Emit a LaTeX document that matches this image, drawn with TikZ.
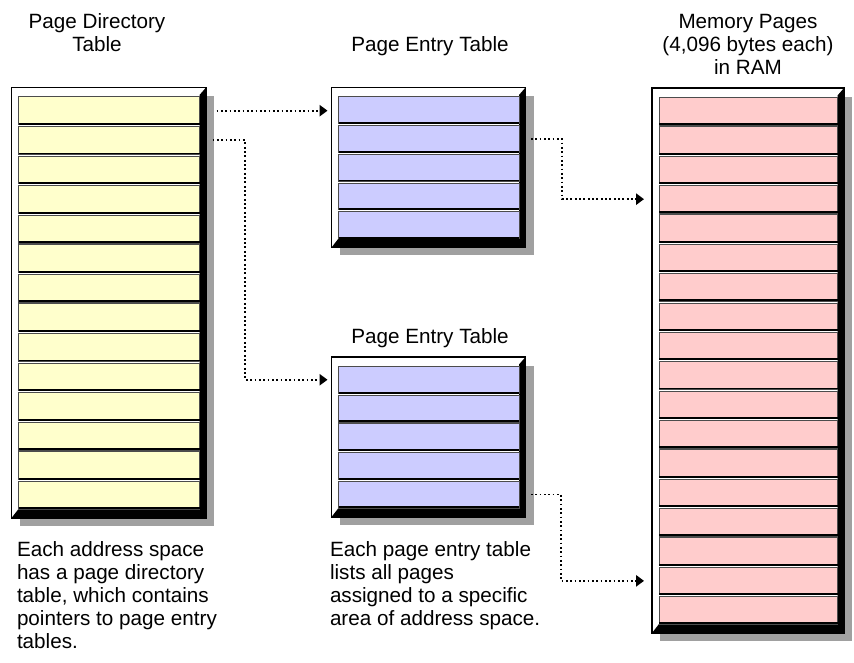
\documentclass[tikz,border=0pt]{standalone}
\usepackage{fontspec}
\setmainfont{Liberation Sans}
\usetikzlibrary{arrows.meta,calc}
\definecolor{pdyel}{HTML}{FFFFCC}
\definecolor{peblue}{HTML}{CCCCFF}
\definecolor{mpink}{HTML}{FFCCCC}
\definecolor{shadowgray}{HTML}{A0A0A0}
\tikzset{
  rowbox/.style={rectangle, draw=black!70, line width=0.45pt, inner sep=0pt, outer sep=0pt},
  framebox/.style={rectangle, inner sep=0pt, outer sep=0pt},
  lbl/.style={inner sep=0pt, outer sep=0pt, align=center, font=\fontsize{15.5}{17.25}\selectfont},
  conn/.style={line width=1.35pt, dash pattern=on 1.35pt off 1.9pt, -{Triangle[length=6pt,width=8.5pt]}},
}
% #1 name, #2 x0, #3 y0, #4 x1, #5 y1, #6 rows, #7 colour
\newcommand\memtable[7]{%
  \fill[shadowgray] ({#2+8},{#3+9}) rectangle ({#4+8},{#5+8});
  \draw[line width=1.1pt, fill=white] (#2,#3) rectangle (#4,#5);
  \fill[black] (#4,#3) -- (#4,#5) -- (#2,#5) -- ({#2+7},{#5-9}) -- ({#4-6.5},{#5-9}) -- ({#4-6.5},{#3+7.5}) -- cycle;
  \pgfmathsetmacro\fwd{(#4-#2)*0.75}
  \pgfmathsetmacro\fht{(#5-#3)*0.75}
  \node[framebox, minimum width=\fwd pt, minimum height=\fht pt] (#1) at ({(#2+#4)/2},{(#3+#5)/2}) {};
  \pgfmathsetmacro\rowpitch{(#5-9-#3-7.5)/#6}
  \pgfmathsetmacro\rowwd{(#4-6.5-#2-7)*0.75}
  \pgfmathsetmacro\rowht{(\rowpitch-1.8)*0.75}
  \pgfmathsetmacro\rowcx{(#2+7+#4-6.5)/2}
  \foreach \i in {1,...,#6}{%
    \pgfmathsetmacro\rowcy{#3+7.5+(\i-1)*\rowpitch+1.8+(\rowpitch-1.8)/2}
    \node[rowbox, fill=#7, minimum width=\rowwd pt, minimum height=\rowht pt] (#1\i) at (\rowcx,\rowcy) {};
    \draw[line width=1.4pt] ([yshift=0.45pt]#1\i.south west) -- ([yshift=0.45pt]#1\i.south east);
  }
}
\begin{document}
\begin{tikzpicture}[x=0.75pt,y=-0.75pt]
\useasboundingbox (0,0) rectangle (854,663);

\memtable{pd}{11.5}{87.5}{206}{518}{14}{pdyel}
\memtable{pa}{331.5}{87.5}{525.5}{247.5}{5}{peblue}
\memtable{pb}{331.5}{357}{525.5}{517}{5}{peblue}
\memtable{m}{652}{88}{844}{633}{18}{mpink}

\node[lbl, anchor=north] (t1) at (97,14) {Page Directory\\Table};
\node[lbl, anchor=north] (t2) at (430,37) {Page Entry Table};
\node[lbl, anchor=north] (t3) at (430,329) {Page Entry Table};
\node[lbl, anchor=north] (t4) at (748,14) {Memory Pages\\(4,096 bytes each)\\in RAM};
\node[lbl, anchor=north west, align=left] (c1) at (17,542)
  {Each address space\\has a page directory\\table, which contains\\pointers to page entry\\tables.};
\node[lbl, anchor=north west, align=left] (c2) at (330,542)
  {Each page entry table\\lists all pages\\assigned to a specific\\area of address space.};

\coordinate (k1) at (245,0);
\coordinate (k2) at (562,0);
\coordinate (k3) at (561,0);

\draw[conn] ($(pd1.east)+(17,0)$) -- ($(pd1.east -| pa1.west)+(-11,0)$);
\draw[conn] ($(pd2.east)+(13,0)$) -- (pd2.east -| k1) -- (k1 |- pb1.west) -- ($(pb1.west)+(-11,0)$);
\draw[conn] ($(pa2.east)+(12,0)$) -- (pa2.east -| k2) -- (k2 |- m4.west) -- ($(m4.west)+(-15,0)$);
\draw[conn] ($(pb5.east)+(12,0)$) -- (pb5.east -| k3) -- (k3 |- m17.west) -- ($(m17.west)+(-15,0)$);
\end{tikzpicture}
\end{document}
